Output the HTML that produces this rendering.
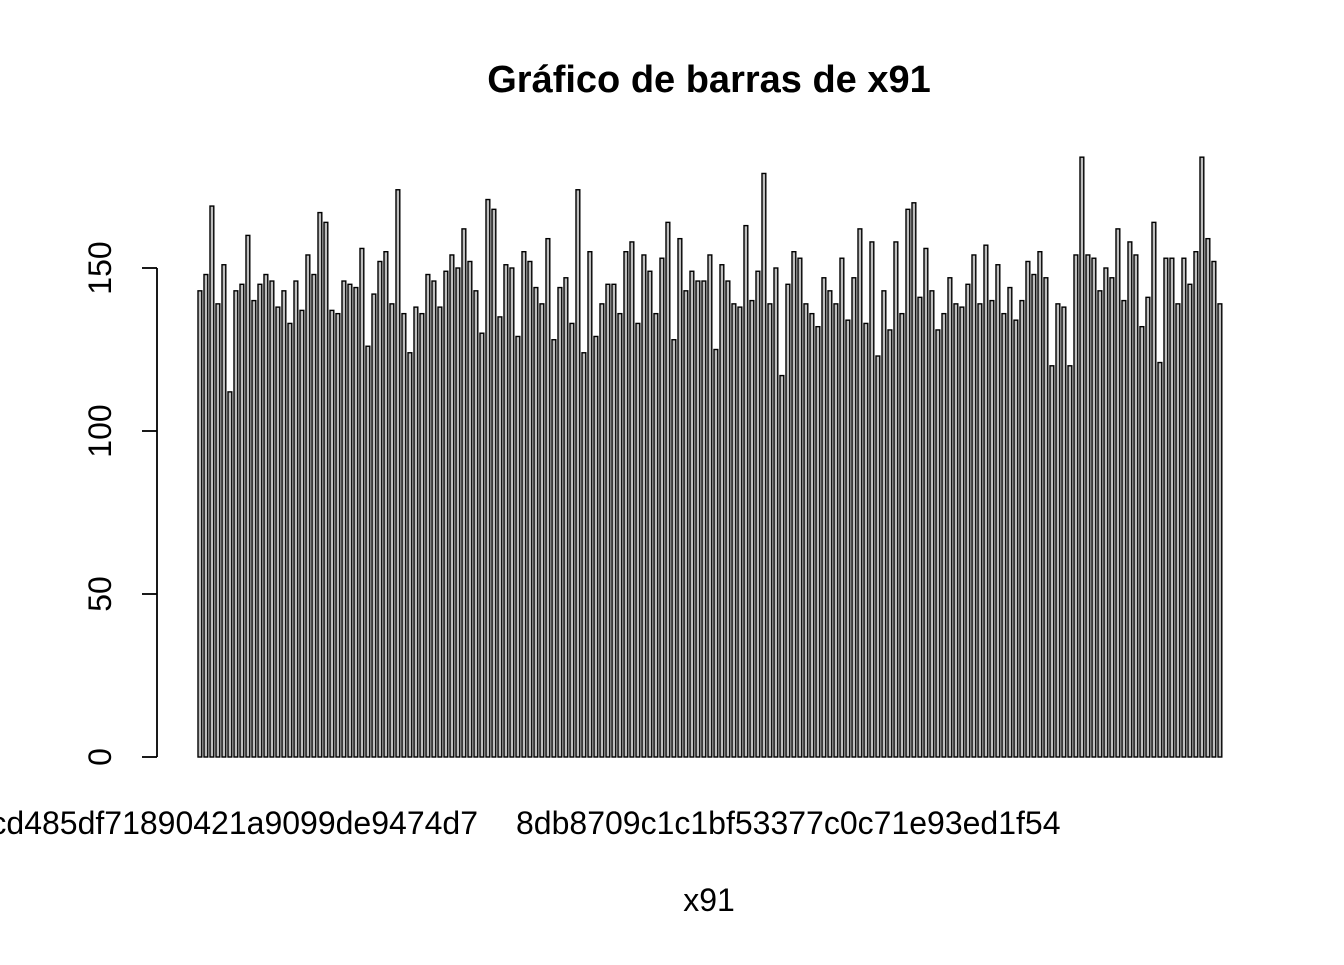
<!DOCTYPE html>
<html><head><meta charset="utf-8"><style>
html,body{margin:0;padding:0;background:#fff;}
svg text{font-family:"Liberation Sans",Arial,sans-serif;fill:#000;}
</style></head><body>
<svg id="chart" width="1344" height="960" viewBox="0 0 1344 960" xmlns="http://www.w3.org/2000/svg">
<text x="709" y="92" text-anchor="middle" font-size="38" font-weight="bold">Gráfico de barras de x91</text>
<g id="bars"></g>
<g id="yaxis"></g>
<text x="478" y="834" text-anchor="end" font-size="32">cd485df71890421a9099de9474d7</text>
<text x="516" y="834" text-anchor="start" font-size="32">8db8709c1c1bf53377c0c71e93ed1f54</text>
<text x="709" y="911" text-anchor="middle" font-size="32">x91</text>
</svg>
<script>
const values = [143,148,169,139,151,112,143,145,160,140,145,148,146,138,143,133,146,137,154,148,167,164,137,136,146,145,144,156,126,142,152,155,139,174,136,124,138,136,148,146,138,149,154,150,
162,152,143,130,171,168,135,151,150,129,155,152,144,139,159,128,144,147,133,174,124,155,129,139,145,145,136,155,158,133,154,149,136,153,164,128,159,143,149,146,146,154,125,
151,146,139,138,163,140,149,179,139,150,117,145,155,153,139,136,132,147,143,139,153,134,147,162,133,158,123,143,131,158,136,168,170,141,156,143,131,136,147,139,138,145,154,139,
157,140,151,136,144,134,140,152,148,155,147,120,139,138,120,154,184,154,153,143,150,147,162,140,158,154,132,141,164,121,153,153,139,153,145,155,184,159,152,139];
const yTicks = [0,50,100,150];
const NS="http://www.w3.org/2000/svg";
const y0=757, yScale=(150-0)/(757-268);
function ypx(v){return y0-(v/yScale);}
const left=197.3, pitch=6, bw=5;
function xpx(i){return left+i*pitch;}
const gb=document.getElementById('bars');
values.forEach((v,i)=>{
  const r=document.createElementNS(NS,'rect');
  r.setAttribute('x',xpx(i)+0.7);
  r.setAttribute('y',ypx(v));
  r.setAttribute('width',bw-1.2);
  r.setAttribute('height',y0-ypx(v));
  r.setAttribute('fill','#bebebe');
  r.setAttribute('stroke','#000');
  r.setAttribute('stroke-width','1.4');
  
  
  gb.appendChild(r);
});
const ga=document.getElementById('yaxis');
const ax=document.createElementNS(NS,'line');
ax.setAttribute('x1',157);ax.setAttribute('x2',157);
ax.setAttribute('y1',ypx(yTicks[0]));ax.setAttribute('y2',ypx(yTicks[yTicks.length-1]));
ax.setAttribute('stroke','#000');ax.setAttribute('stroke-width','1.8');


ga.appendChild(ax);
yTicks.forEach(t=>{
  const l=document.createElementNS(NS,'line');
  l.setAttribute('x1',142);l.setAttribute('x2',157);
  l.setAttribute('y1',ypx(t));l.setAttribute('y2',ypx(t));
  l.setAttribute('stroke','#000');l.setAttribute('stroke-width','1.8');
  
  
  ga.appendChild(l);
  const tx=document.createElementNS(NS,'text');
  const yy=ypx(t);
  tx.setAttribute('x',111);tx.setAttribute('y',yy);
  tx.setAttribute('text-anchor','middle');
  tx.setAttribute('font-size','32');
  tx.setAttribute('transform','rotate(-90 111 '+yy+')');
  tx.textContent=t;
  
  
  ga.appendChild(tx);
});
</script>
</body></html>
